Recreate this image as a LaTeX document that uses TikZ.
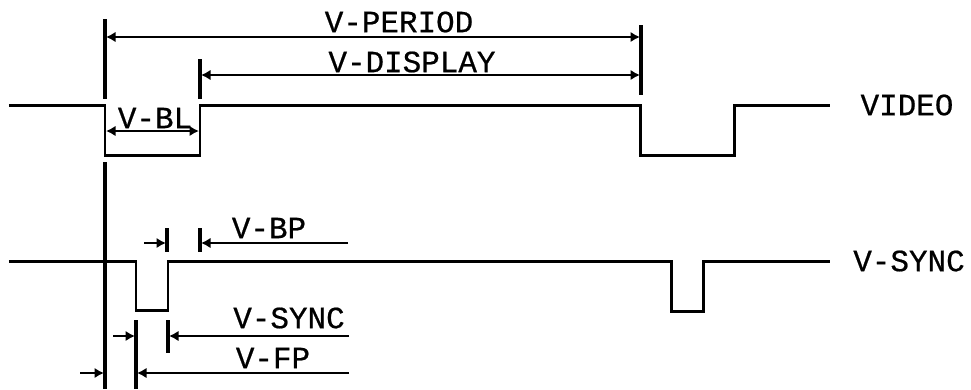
\documentclass[tikz,border=0pt]{standalone}
\usepackage{fontspec}
\newfontface\plotfont[FakeBold=0.6]{Liberation Mono}
\usetikzlibrary{arrows.meta}

\tikzset{
    signal/.style={line width=0.85pt},
    marker/.style={line width=0.9pt},
    dimline/.style={line width=0.65pt, -{Latex[length=0.95mm, width=1.05mm]}},
    dimboth/.style={line width=0.65pt, {Latex[length=0.95mm, width=1.05mm]}-{Latex[length=0.95mm, width=1.05mm]}},
    lbl/.style={inner sep=0pt, font=\fontsize{8.8}{10}\plotfont}
}

\begin{document}
\begin{tikzpicture}

\useasboundingbox (0,0) rectangle (9.71,3.89);

% signals
\draw[signal]
    (0.09,2.84) -- (1.05,2.84) -- (1.05,2.34) -- (2.00,2.34) -- (2.00,2.84) -- (6.40,2.84)
    -- (6.40,2.34) -- (7.34,2.34) -- (7.34,2.84) -- (8.30,2.84);
\draw[signal]
    (0.09,1.28) -- (1.36,1.28) -- (1.36,0.79) -- (1.68,0.79) -- (1.68,1.28) -- (6.71,1.28)
    -- (6.71,0.78) -- (7.03,0.78) -- (7.03,1.28) -- (8.30,1.28);

% markers
\coordinate (perL) at (1.06,3.52);
\coordinate (perR) at (6.40,3.52);
\coordinate (dispL) at (2.01,3.14);
\coordinate (dispR) at (6.40,3.14);
\coordinate (blL) at (1.06,2.58);
\coordinate (blR) at (1.99,2.58);
\coordinate (bpA) at (1.66,1.46);
\coordinate (bpB) at (2.01,1.46);
\coordinate (syncA) at (1.35,0.53);
\coordinate (syncB) at (1.69,0.53);
\coordinate (fpA) at (1.04,0.16);
\coordinate (fpB) at (1.37,0.16);

\draw[marker] (1.05,3.70) -- (1.05,2.90);
\draw[marker] (1.05,2.27) -- (1.05,0);
\draw[marker] (2.00,3.30) -- (2.00,2.90);
\draw[marker] (6.41,3.64) -- (6.41,2.94);
\draw[marker] (1.67,1.61) -- (1.67,1.37);
\draw[marker] (2.00,1.61) -- (2.00,1.37);
\draw[marker] (1.36,0.69) -- (1.36,0);
\draw[marker] (1.68,0.69) -- (1.68,0.36);

% dimension arrows
\draw[dimboth] (perL) -- (perR);
\draw[dimboth] (dispL) -- (dispR);
\draw[dimboth] (blL) -- (blR);

\coordinate (bpS) at (1.44,1.46);
\coordinate (bpE) at (3.48,1.46);
\coordinate (syncS) at (1.13,0.53);
\coordinate (syncE) at (3.49,0.53);
\coordinate (fpS) at (0.80,0.16);
\coordinate (fpE) at (3.49,0.16);

\draw[dimline] (bpS) -- (bpA);
\draw[dimline] (bpE) -- (bpB);
\draw[dimline] (syncS) -- (syncA);
\draw[dimline] (syncE) -- (syncB);
\draw[dimline] (fpS) -- (fpA);
\draw[dimline] (fpE) -- (fpB);

% labels
\node[lbl] (period) at (3.99,3.67) {V-PERIOD};
\node[lbl] (display) at (4.12,3.27) {V-DISPLAY};
\node[lbl] (bl) at (1.55,2.71) {V-BL};
\node[lbl] (bp) at (2.69,1.61) {V-BP};
\node[lbl] (sync) at (2.89,0.71) {V-SYNC};
\node[lbl] (fp) at (2.73,0.31) {V-FP};
\node[lbl] (video) at (9.07,2.84) {VIDEO};
\node[lbl] (vsync) at (9.09,1.28) {V-SYNC};

\end{tikzpicture}
\end{document}
